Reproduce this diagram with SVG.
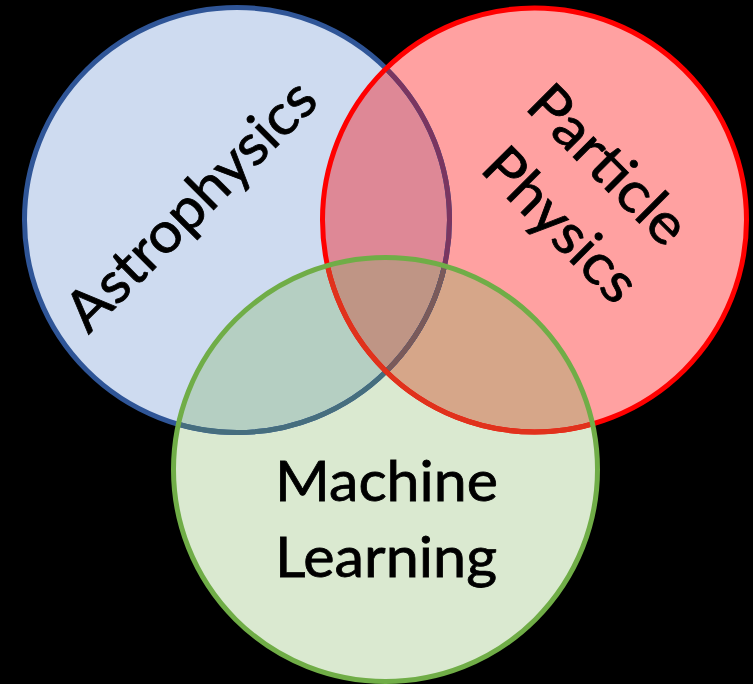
<svg xmlns="http://www.w3.org/2000/svg" xmlns:xlink="http://www.w3.org/1999/xlink" width="753" height="684" viewBox="0 0 753 684">
<style>
.lbl{font-family:Lato,"Open Sans","Liberation Sans",sans-serif;font-size:57px;fill:#000;stroke:#000;stroke-width:0.8px;text-anchor:middle}
.sw{fill:none;stroke-width:5}
</style>
<defs>
<circle id="cB" cx="237" cy="220" r="212.5"/>
<circle id="cR" cx="534.5" cy="220" r="212"/>
<circle id="cG" cx="385.5" cy="469.5" r="212"/>
<clipPath id="kB"><use xlink:href="#cB"/></clipPath>
<clipPath id="kR"><use xlink:href="#cR"/></clipPath>
<clipPath id="kG"><use xlink:href="#cG"/></clipPath>
</defs>
<rect width="753" height="684" fill="#000"/>
<g id="astrophysics-fill"><use xlink:href="#cB" fill="#cedbf0"/></g>
<g id="particle-fill"><use xlink:href="#cR" fill="#ffa1a1"/></g>
<g id="ml-fill"><use xlink:href="#cG" fill="#dae9d0"/></g>
<g id="overlaps">
<g clip-path="url(#kB)"><use xlink:href="#cR" fill="#de8896"/></g>
<g clip-path="url(#kB)"><use xlink:href="#cG" fill="#b5cfc2"/></g>
<g clip-path="url(#kR)"><use xlink:href="#cG" fill="#d6a689"/></g>
<g clip-path="url(#kB)"><g clip-path="url(#kR)"><use xlink:href="#cG" fill="#bf9585"/></g></g>
</g>
<g id="outlines">
<use xlink:href="#cB" class="sw" stroke="#2f5597"/>
<g clip-path="url(#kR)"><use xlink:href="#cB" class="sw" stroke="#7a3560"/></g>
<g clip-path="url(#kG)"><use xlink:href="#cB" class="sw" stroke="#466e7e"/></g>
<g clip-path="url(#kG)"><g clip-path="url(#kR)"><use xlink:href="#cB" class="sw" stroke="#7a5a5a"/></g></g>
<use xlink:href="#cR" class="sw" stroke="#ff0000"/>
<g clip-path="url(#kG)"><use xlink:href="#cR" class="sw" stroke="#e0321c"/></g>
<use xlink:href="#cG" class="sw" stroke="#70ad47"/>
</g>
<g id="astrophysics" transform="translate(204.5,219) rotate(-45)">
<text class="lbl" x="0" y="0" textLength="328" lengthAdjust="spacingAndGlyphs">Astrophysics</text>
</g>
<g id="particle-physics" transform="translate(593,177) rotate(45)">
<text class="lbl" x="2" y="0" textLength="200" lengthAdjust="spacingAndGlyphs">Particle</text>
<text class="lbl" x="11" y="76" textLength="193" lengthAdjust="spacingAndGlyphs">Physics</text>
</g>
<g id="machine-learning">
<text class="lbl" x="386.5" y="501" textLength="223" lengthAdjust="spacingAndGlyphs">Machine</text>
<text class="lbl" x="386" y="577" textLength="222" lengthAdjust="spacingAndGlyphs">Learning</text>
</g>
</svg>
